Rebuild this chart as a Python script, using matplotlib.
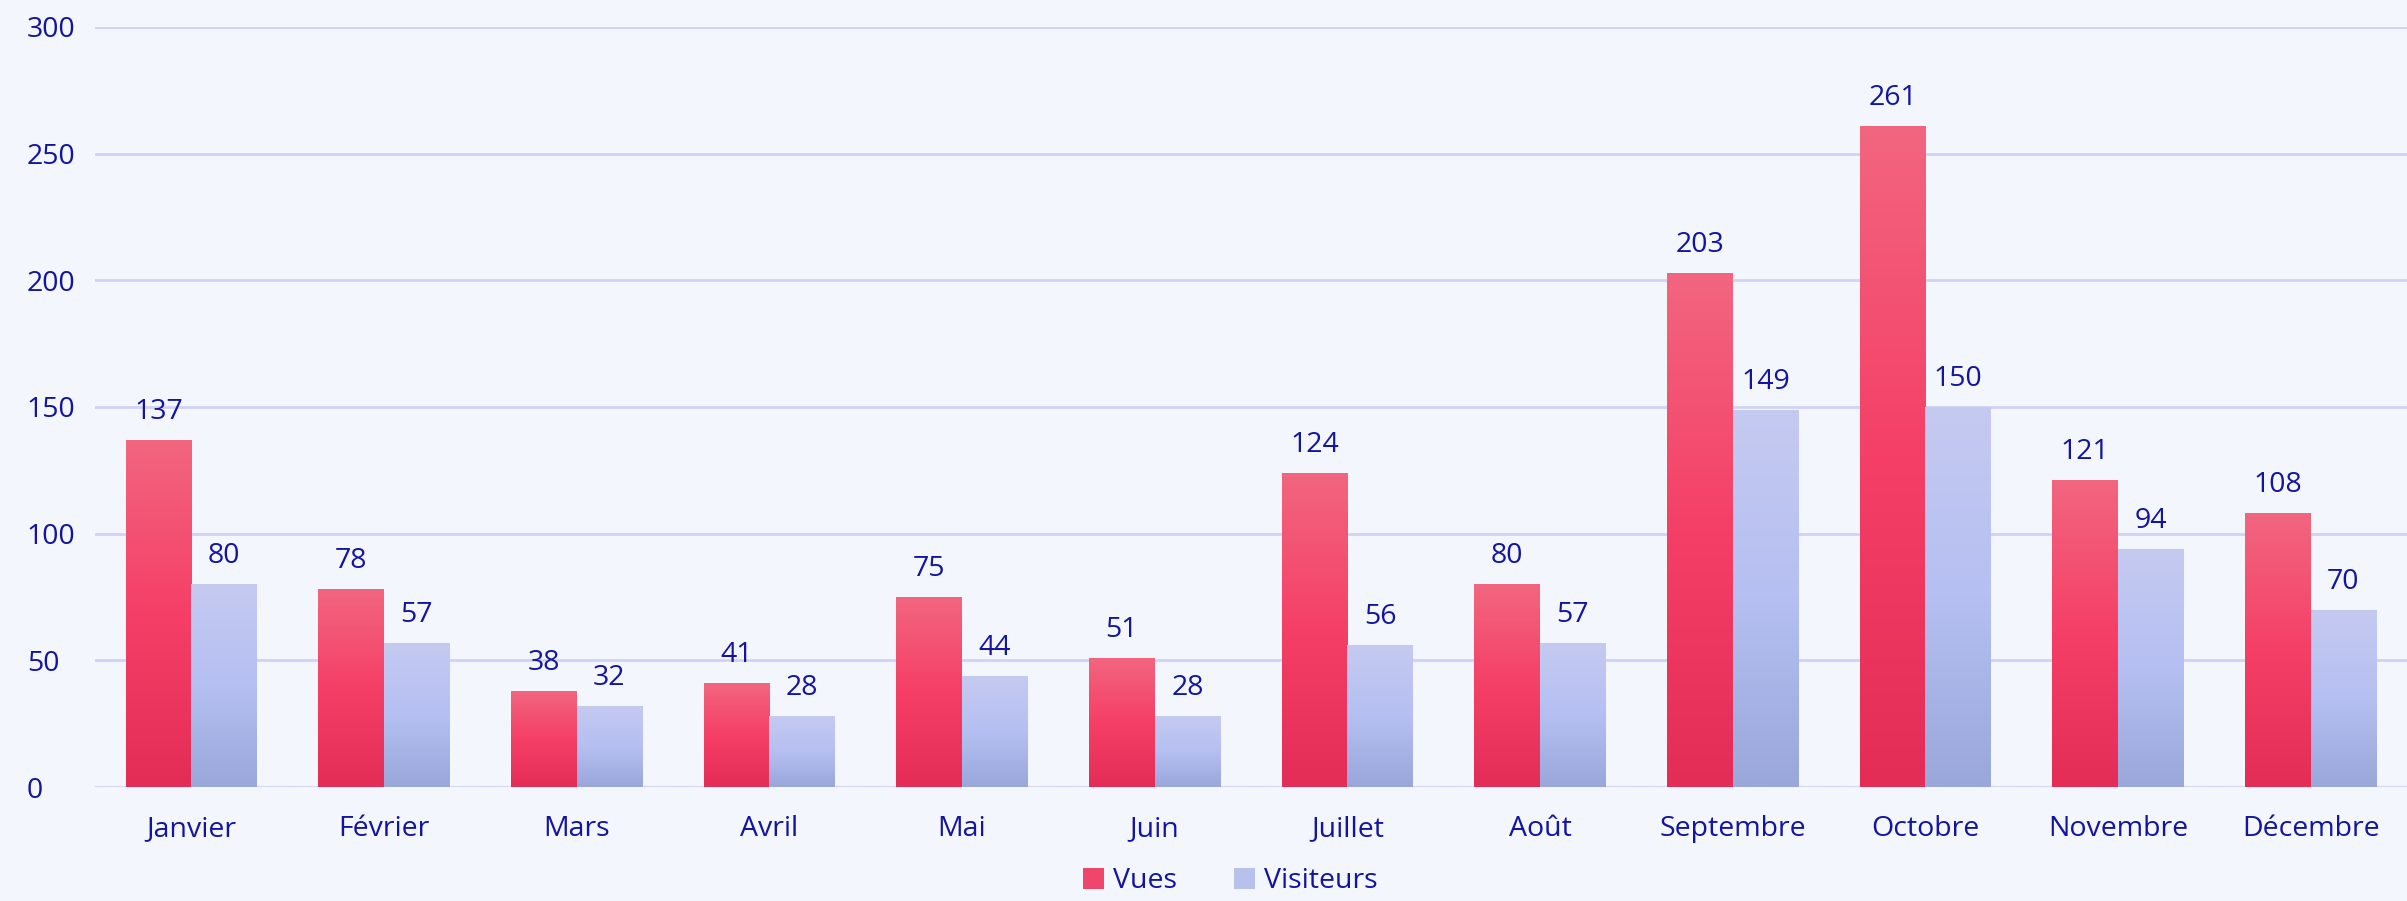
import matplotlib.pyplot as plt
import numpy as np
from matplotlib.colors import LinearSegmentedColormap
from matplotlib.patches import Patch

# data
mois = ["Janvier", "Février", "Mars", "Avril", "Mai", "Juin", "Juillet",
        "Août", "Septembre", "Octobre", "Novembre", "Décembre"]
vues = [137, 78, 38, 41, 75, 51, 124, 80, 203, 261, 121, 108]
visiteurs = [80, 57, 32, 28, 44, 28, 56, 57, 149, 150, 94, 70]

bg = "#F3F6FC"
txt = "#14149E"
grid_col = "#D2D2F7"

# gradients bottom -> top
red_cmap = LinearSegmentedColormap.from_list("r", ["#E32D57", "#F53F66", "#F2667F"])
blue_cmap = LinearSegmentedColormap.from_list("b", ["#9AA7DA", "#B5BFF2", "#C5CAF0"])

plt.rcParams["font.family"] = ["Open Sans", "DejaVu Sans"]

fig = plt.figure(figsize=(24.07, 9.01), dpi=100, facecolor=bg)
ax = fig.add_axes([95 / 2407, 1 - 787 / 901, 1 - 95 / 2407, (787 - 27) / 901])
ax.set_facecolor(bg)

x = np.arange(len(mois))
w = 0.34
grad = np.linspace(0, 1, 256).reshape(-1, 1)


def gradient_bars(xpos, vals, cmap):
    bars = ax.bar(xpos, vals, w, color="none", edgecolor="none", zorder=2)
    for b in bars:
        x0 = b.get_x()
        h = b.get_height()
        im = ax.imshow(grad, extent=[x0, x0 + w, 0, h], origin="lower",
                       aspect="auto", cmap=cmap, zorder=2)
        im.set_clip_path(b)
    for xi, v in zip(xpos, vals):
        ax.annotate(str(v), (xi, v), xytext=(0, 21), textcoords="offset pixels",
                    ha="center", va="baseline", fontsize=20.5, color=txt)


gradient_bars(x - w / 2, vues, red_cmap)
gradient_bars(x + w / 2, visiteurs, blue_cmap)

ax.set_xlim(-0.5, len(mois) - 0.5)
ax.set_ylim(0, 300)
ax.set_yticks(range(0, 301, 50))
ax.set_xticks(x)
ax.set_xticklabels(mois)
ax.tick_params(axis="both", length=0, labelsize=20.5, labelcolor=txt)
ax.tick_params(axis="x", pad=20)
ax.tick_params(axis="y", pad=49)
for lab in ax.get_yticklabels():
    lab.set_horizontalalignment("left")
ax.grid(axis="y", color=grid_col, linewidth=2, zorder=0)
ax.set_axisbelow(True)
for s in ax.spines.values():
    s.set_visible(False)

handles = [Patch(facecolor="#F0466C", label="Vues"),
           Patch(facecolor="#B8C0EC", label="Visiteurs")]
fig.legend(handles=handles, loc="lower center", bbox_to_anchor=(0.511, 0.0),
           borderaxespad=0.1, borderpad=0.1,
           ncol=2, frameon=False, fontsize=20.5, labelcolor=txt,
           handlelength=0.75, handleheight=0.75, handletextpad=0.3, columnspacing=2.0)

fig.savefig("out.png", dpi=100, facecolor=bg)
